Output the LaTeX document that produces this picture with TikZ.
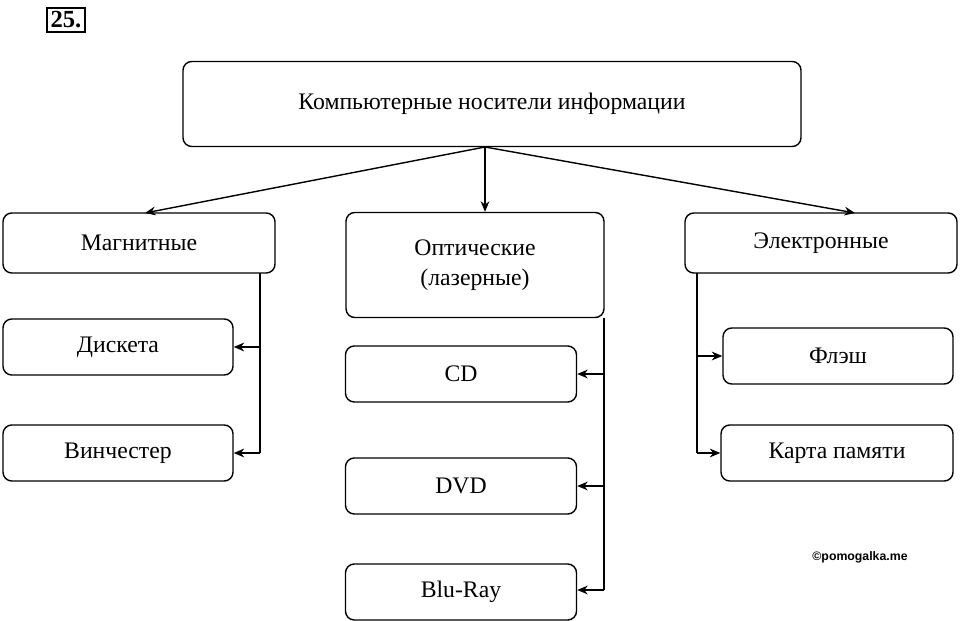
\documentclass[tikz,border=0pt]{standalone}
\usepackage{fontspec}
\setmainfont{Liberation Serif}
\newfontfamily\wmfont{Liberation Sans}
\usetikzlibrary{arrows.meta}
\tikzset{
  box/.style={draw, thick, rounded corners=5pt, align=center, inner sep=0pt,
    font=\fontsize{13.5}{17}\selectfont},
  link/.style={thick, -{Stealth[length=6pt,width=5pt]}}
}
\begin{document}
\begin{tikzpicture}[x=0.02cm, y=-0.02cm]
  \useasboundingbox (0,0) rectangle (960,621);
  % number
  \node[draw, very thick, inner sep=2pt, font=\bfseries\fontsize{14}{16}\selectfont] (num) at (66,20) {25.};
  % top
  \node[box, minimum width=618*0.02cm, minimum height=85*0.02cm] (root) at (492,104) {Компьютерные носители информации};
  % categories
  \node[box, minimum width=272*0.02cm, minimum height=60*0.02cm] (mag) at (139,243) {Магнитные};
  \node[box, minimum width=258*0.02cm, minimum height=105*0.02cm] (opt) at (475,265) {Оптические\\(лазерные)};
  \node[box, minimum width=272*0.02cm, minimum height=60*0.02cm] (el) at (821,243) {Электронные};
  % leaves
  \node[box, minimum width=230*0.02cm, minimum height=56*0.02cm] (disk) at (118,347) {Дискета};
  \node[box, minimum width=230*0.02cm, minimum height=56*0.02cm] (hdd) at (118,453) {Винчестер};
  \node[box, minimum width=231*0.02cm, minimum height=56*0.02cm] (cd) at (461,374) {CD};
  \node[box, minimum width=231*0.02cm, minimum height=56*0.02cm] (dvd) at (461,486) {DVD};
  \node[box, minimum width=231*0.02cm, minimum height=56*0.02cm] (bd) at (461,592) {Blu-Ray};
  \node[box, minimum width=230*0.02cm, minimum height=56*0.02cm] (flash) at (838,356) {Флэш};
  \node[box, minimum width=232*0.02cm, minimum height=56*0.02cm] (card) at (837,453) {Карта памяти};
  \node[font=\wmfont\bfseries\fontsize{7}{8}\selectfont] (wm) at (860,557) {©pomogalka.me};
  % top links
  \coordinate (rb) at (485,147);
  \draw[link] (rb) -- (145,213);
  \draw[link] (rb) -- (rb |- opt.north);
  \draw[link] (rb) -- (855,213);
  % magnetic
  \coordinate (m0) at (260,273);
  \draw[thick] (m0) -- (260,453);
  \draw[link] (260,347) -- (disk.east);
  \draw[link] (260,453) -- (hdd.east);
  % optical
  \coordinate (o0) at (604,318);
  \draw[thick] (o0) -- (604,590);
  \draw[link] (604,374) -- (cd.east);
  \draw[link] (604,486) -- (dvd.east);
  \draw[link] (604,590) -- (bd.east |- 0,590);
  % electronic
  \coordinate (e0) at (697,273);
  \draw[thick] (e0) -- (697,453);
  \draw[link] (697,356) -- (flash.west);
  \draw[link] (697,453) -- (card.west);
\end{tikzpicture}
\end{document}
